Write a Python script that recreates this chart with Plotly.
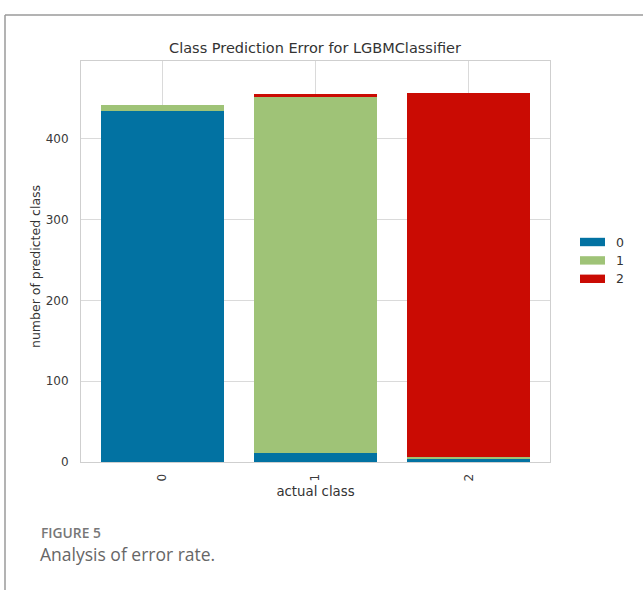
import plotly.graph_objects as go

# Actual classes on the x axis, stacked counts per predicted class
classes = ["0", "1", "2"]
x_pos = [0, 1, 2]
predicted_0 = [434, 11, 4]
predicted_1 = [7, 441, 2]
predicted_2 = [0, 3, 450]
y_ticks = [0, 100, 200, 300, 400]

series = [("0", predicted_0, "#0272a2"),
          ("1", predicted_1, "#9fc377"),
          ("2", predicted_2, "#ca0b03")]

W, H = 643, 590
L, R, T, B = 81, 93, 61, 128
PW, PH = W - L - R, H - T - B


def px_x(px):
    return (px - L) / PW


def px_y(py):
    return (H - B - py) / PH


fig = go.Figure()
for name, vals, color in series:
    fig.add_trace(go.Bar(x=x_pos, y=vals, name=name, marker_color=color,
                         marker_line_width=0, showlegend=False))

text_font = dict(family="DejaVu Sans", size=12, color="#3a3a3a")

shapes = []
annotations = []

# legend swatches
for i, (name, vals, color) in enumerate(series):
    cy = 242 + i * 18.4
    shapes.append(dict(type="rect", xref="paper", yref="paper",
                       x0=px_x(580), x1=px_x(605), y0=px_y(cy + 4.2), y1=px_y(cy - 4.2),
                       fillcolor=color, line_width=0))
    annotations.append(dict(text=name, xref="paper", yref="paper",
                            x=px_x(614), y=px_y(cy), xanchor="left", yanchor="middle",
                            showarrow=False, font=dict(family="DejaVu Sans", size=12.5, color="#333")))

# y axis label
annotations.append(dict(text="number of predicted class", xref="paper", yref="paper",
                        x=px_x(35), y=px_y(267), xanchor="center", yanchor="middle",
                        textangle=-90, showarrow=False,
                        font=dict(family="DejaVu Sans", size=12.5, color="#333")))

# card border (top and left edges)
shapes.append(dict(type="line", xref="paper", yref="paper",
                   x0=px_x(5), x1=px_x(W + 5), y0=px_y(15), y1=px_y(15),
                   line=dict(color="#9a9a9a", width=1.5)))
shapes.append(dict(type="line", xref="paper", yref="paper",
                   x0=px_x(5), x1=px_x(5), y0=px_y(15), y1=px_y(H + 5),
                   line=dict(color="#9a9a9a", width=1.5)))

# caption
annotations.append(dict(text="FIGURE 5", xref="paper", yref="paper",
                        x=px_x(39), y=px_y(532), xanchor="left", yanchor="middle",
                        showarrow=False,
                        font=dict(family="Open Sans", size=13.8, color="#777777", weight=600)))
annotations.append(dict(text="Analysis of error rate.", xref="paper", yref="paper",
                        x=px_x(38), y=px_y(554), xanchor="left", yanchor="middle",
                        showarrow=False,
                        font=dict(family="Open Sans", size=17.5, color="#666666")))

fig.update_layout(
    width=W, height=H,
    margin=dict(l=L, r=R, t=T, b=B, autoexpand=False),
    paper_bgcolor="white", plot_bgcolor="white",
    barmode="stack", bargap=0.2,
    title=dict(text="Class Prediction Error for LGBMClassifier",
               x=px_x(315), xref="paper", xanchor="center",
               y=1 - 48 / H, yanchor="middle",
               font=dict(family="DejaVu Sans", size=14.5, color="#333")),
    shapes=shapes,
    annotations=annotations,
)

fig.update_xaxes(
    range=[-0.53, 2.53], tickvals=x_pos, ticktext=classes, tickangle=-90,
    showgrid=True, gridcolor="#dadada", gridwidth=1,
    showline=True, linecolor="#cfcfcf", linewidth=1, mirror=True,
    zeroline=False, ticks="", ticklabelstandoff=6,
    tickfont=text_font,
    title=dict(text="actual class", standoff=6,
               font=dict(family="DejaVu Sans", size=13.3, color="#333")),
)
fig.update_yaxes(
    range=[0, 496], tickvals=y_ticks,
    showgrid=True, gridcolor="#dadada", gridwidth=1,
    showline=True, linecolor="#cfcfcf", linewidth=1, mirror=True,
    zeroline=False, ticks="", ticklabelstandoff=9,
    tickfont=text_font,
)

fig.write_html("out.html")
